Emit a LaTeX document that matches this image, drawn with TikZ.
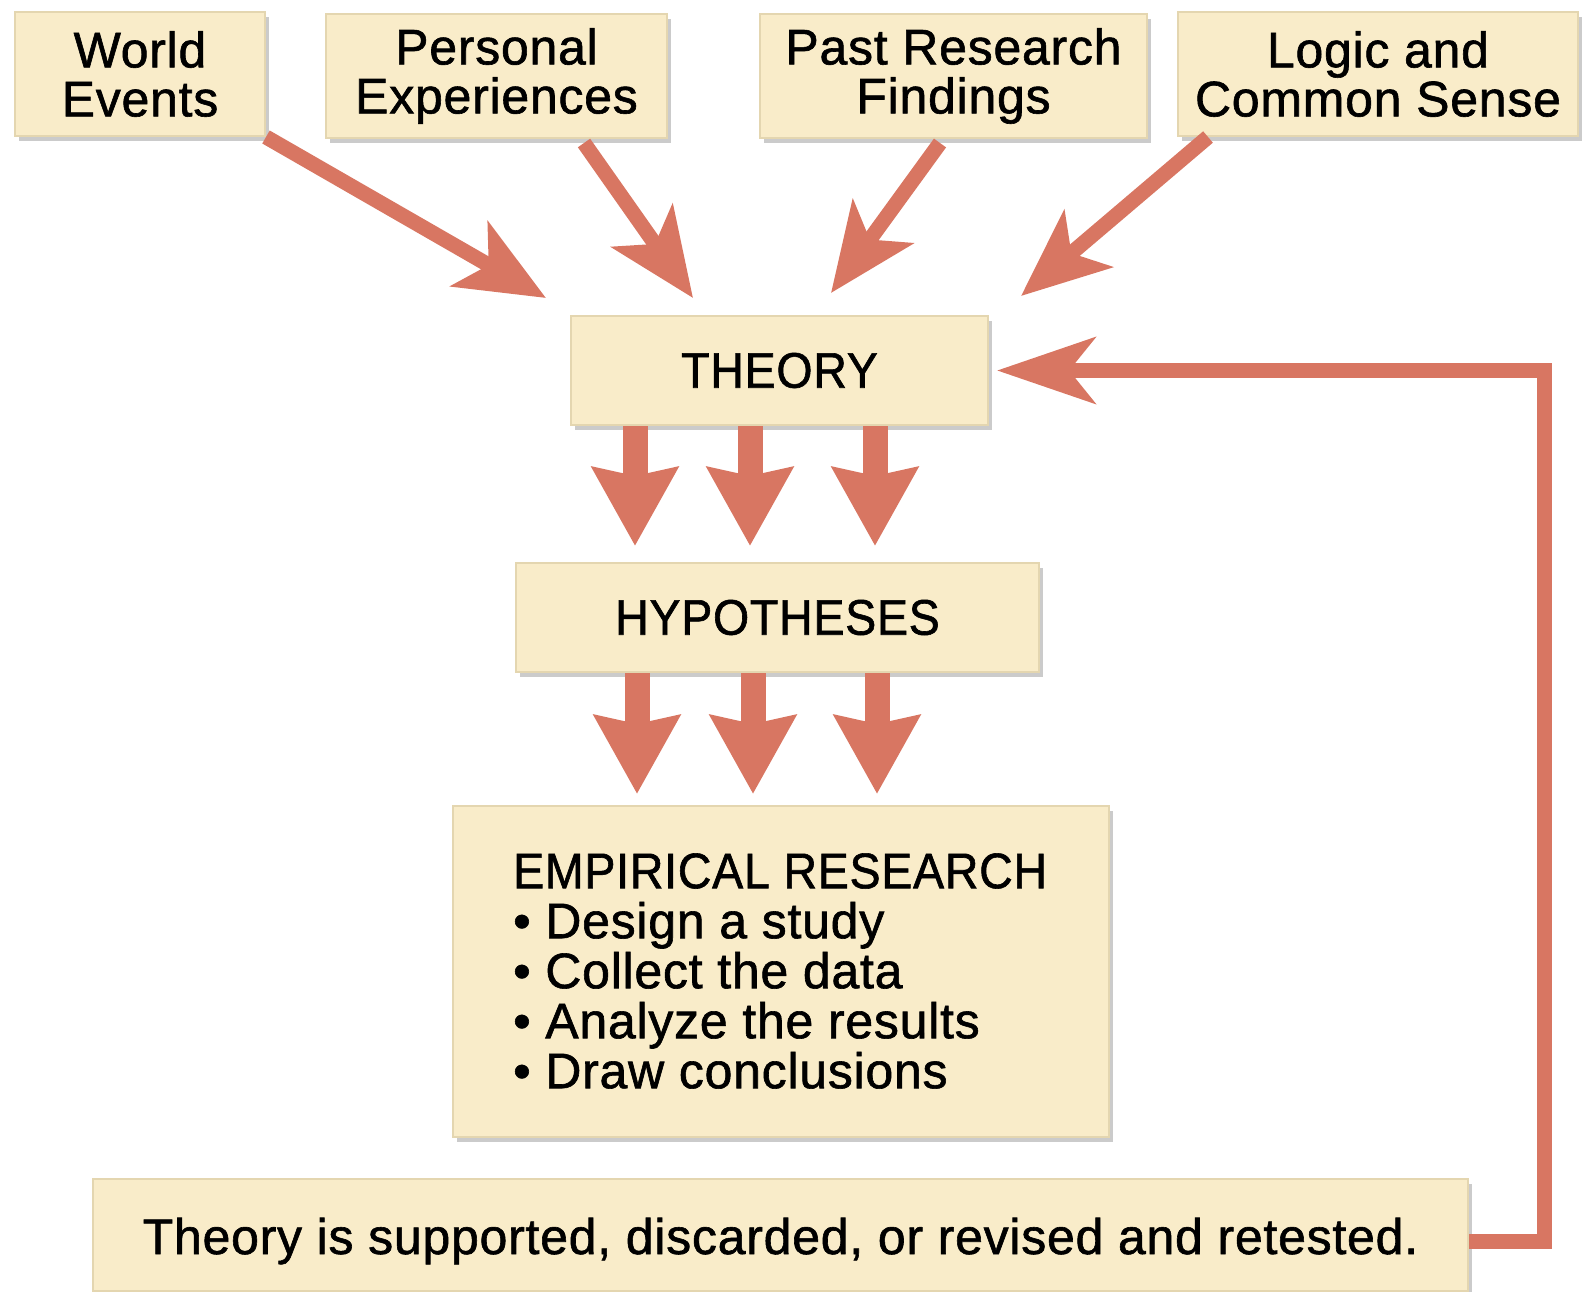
\documentclass[tikz,border=0pt]{standalone}
\usepackage{fontspec}
\setmainfont{Liberation Sans}[LetterSpace=1.5, FakeBold=1.2]
\newfontfamily\capsfont{Liberation Sans}[FakeStretch=0.93, LetterSpace=1.5, FakeBold=1.2]
\usetikzlibrary{arrows.meta,shadows,calc}
\definecolor{boxfill}{RGB}{249,236,201}
\definecolor{boxedge}{RGB}{228,214,176}
\definecolor{arr}{RGB}{216,118,98}
\begin{document}
\begin{tikzpicture}[x=1pt,y=-1pt,
  box/.style={fill=boxfill, draw=boxedge, line width=2pt, inner sep=0pt, align=center,
    font=\fontsize{50}{49}\selectfont,
    drop shadow={shadow xshift=4pt, shadow yshift=-5pt, fill=black!45, opacity=0.45}},
  diagarrow/.style={draw=arr, line width=15pt, -{Stealth[length=88pt,width=74pt,inset=22pt]}},
  downarrow/.style={draw=arr, line width=25pt, -{Stealth[length=78pt,width=84pt,inset=8pt]}},
  fbarrow/.style={draw=arr, line width=15pt, line join=miter, -{Stealth[length=98pt,width=66pt,inset=26pt]}},
  lbl/.style={inner sep=0pt, align=left, font=\fontsize{50}{50}\selectfont}
]
\useasboundingbox (0,0) rectangle (1585,1292);

% top source boxes
\node[box, minimum width=250pt, minimum height=124pt] (we) at (140,74) {World\\Events};
\node[box, minimum width=341pt, minimum height=124pt] (pe) at (496.5,76) {Personal\\Experiences};
\node[box, minimum width=387pt, minimum height=124pt] (pr) at (953.5,76) {Past Research\\Findings};
\node[box, minimum width=400pt, minimum height=124pt] (lc) at (1378,74) {Logic and\\Common Sense};

% main chain
\node[box, minimum width=417pt, minimum height=109pt, font=\capsfont\fontsize{50}{49}\selectfont] (th) at (779.5,370.5) {THEORY};
\node[box, minimum width=523pt, minimum height=109pt, font=\capsfont\fontsize{50}{49}\selectfont] (hy) at (777.5,617.5) {HYPOTHESES};
\node[box, minimum width=656pt, minimum height=331pt] (em) at (781,971.5) {};
\node[lbl, anchor=west] (emt) at (513,971) {{\capsfont EMPIRICAL RESEARCH}\\
  \textbullet\ Design a study\\
  \textbullet\ Collect the data\\
  \textbullet\ Analyze the results\\
  \textbullet\ Draw conclusions};
\node[box, minimum width=1375pt, minimum height=112pt] (bt) at (780.5,1235) {};
\node[lbl, anchor=base] (btt) at (780.5,1254) {Theory is supported, discarded, or revised and retested.};

% tip coordinates
\coordinate (t1) at (546,298);
\coordinate (t2) at (693,298);
\coordinate (t3) at (831,293);
\coordinate (t4) at (1021,296);
\coordinate (a1) at (635,546);
\coordinate (a2) at (750,546);
\coordinate (a3) at (875,546);
\coordinate (b1) at (637,794);
\coordinate (b2) at (753,794);
\coordinate (b3) at (877,794);
\coordinate (fc) at (1544,370.5);

% diagonal arrows into THEORY
\draw[diagarrow] (we.south east) -- (t1);
\draw[diagarrow] (pe.south -| 584,0) ++(0,4) -- (t2);
\draw[diagarrow] (pr.south -| 940,0) ++(0,4) -- (t3);
\draw[diagarrow] (lc.south west -| 1208,0) -- (t4);

% THEORY -> HYPOTHESES
\draw[downarrow] (th.south -| a1) -- (a1);
\draw[downarrow] (th.south -| a2) -- (a2);
\draw[downarrow] (th.south -| a3) -- (a3);

% HYPOTHESES -> EMPIRICAL
\draw[downarrow] (hy.south -| b1) -- (b1);
\draw[downarrow] (hy.south -| b2) -- (b2);
\draw[downarrow] (hy.south -| b3) -- (b3);

% feedback loop
\draw[fbarrow] ([yshift=-6pt]bt.east) -| (fc) -- ([xshift=8pt]th.east);
\end{tikzpicture}
\end{document}
